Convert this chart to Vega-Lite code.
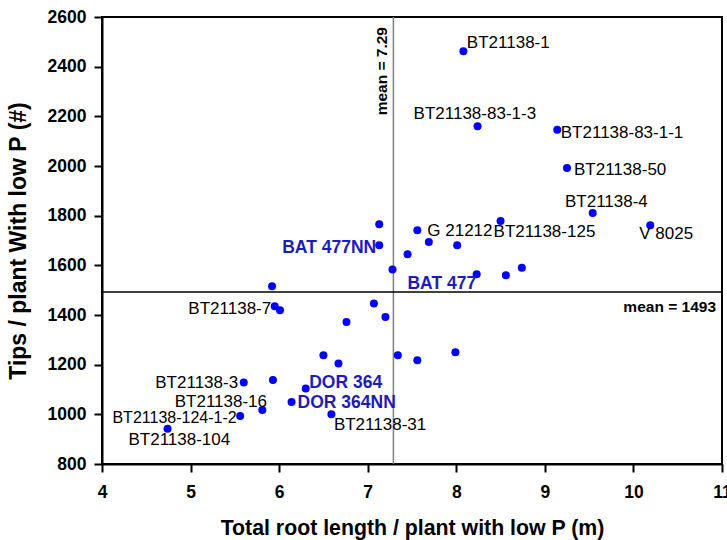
{
  "$schema": "https://vega.github.io/schema/vega-lite/v6.json",
  "width": 620,
  "height": 447,
  "autosize": {"type": "none"},
  "padding": {"left": 102, "top": 17, "right": 5, "bottom": 76},
  "background": "white",
  "config": {
    "font": "Liberation Sans",
    "view": {"stroke": "black", "strokeWidth": 2},
    "axis": {
      "grid": false,
      "domainColor": "black",
      "domainWidth": 2,
      "tickColor": "black",
      "tickWidth": 2,
      "tickSize": 8,
      "labelColor": "black",
      "labelFontSize": 17.5,
      "labelFontWeight": "bold",
      "titleColor": "black",
      "titleFontWeight": "bold"
    },
    "text": {"fontSize": 17, "baseline": "middle"}
  },
  "datasets": {
    "pts": [
      {"x": 8.08, "y": 2462, "label": "BT21138-1", "type": "line"},
      {"x": 8.24, "y": 2160, "label": "BT21138-83-1-3", "type": "line"},
      {"x": 9.14, "y": 2146, "label": "BT21138-83-1-1", "type": "line"},
      {"x": 9.25, "y": 1992, "label": "BT21138-50", "type": "line"},
      {"x": 9.54, "y": 1811, "label": "BT21138-4", "type": "line"},
      {"x": 10.19, "y": 1761, "label": "V 8025", "type": "line"},
      {"x": 7.13, "y": 1765, "label": "", "type": "line"},
      {"x": 7.13, "y": 1681, "label": "BAT 477NN", "type": "parent"},
      {"x": 7.56, "y": 1741, "label": "G 21212", "type": "line"},
      {"x": 8.50, "y": 1779, "label": "BT21138-125", "type": "line"},
      {"x": 7.69, "y": 1694, "label": "", "type": "line"},
      {"x": 8.01, "y": 1681, "label": "", "type": "line"},
      {"x": 7.45, "y": 1645, "label": "", "type": "line"},
      {"x": 7.28, "y": 1583, "label": "", "type": "line"},
      {"x": 8.23, "y": 1564, "label": "BAT 477", "type": "parent"},
      {"x": 8.56, "y": 1560, "label": "", "type": "line"},
      {"x": 8.74, "y": 1590, "label": "", "type": "line"},
      {"x": 5.92, "y": 1516, "label": "", "type": "line"},
      {"x": 5.95, "y": 1435, "label": "BT21138-7", "type": "line"},
      {"x": 6.01, "y": 1419, "label": "", "type": "line"},
      {"x": 7.07, "y": 1446, "label": "", "type": "line"},
      {"x": 7.20, "y": 1392, "label": "", "type": "line"},
      {"x": 6.76, "y": 1372, "label": "", "type": "line"},
      {"x": 6.50, "y": 1238, "label": "", "type": "line"},
      {"x": 6.67, "y": 1205, "label": "", "type": "line"},
      {"x": 7.34, "y": 1238, "label": "", "type": "line"},
      {"x": 7.56, "y": 1218, "label": "", "type": "line"},
      {"x": 7.99, "y": 1250, "label": "", "type": "line"},
      {"x": 5.60, "y": 1128, "label": "BT21138-3", "type": "line"},
      {"x": 5.93, "y": 1138, "label": "", "type": "line"},
      {"x": 6.30, "y": 1104, "label": "DOR 364", "type": "parent"},
      {"x": 6.14, "y": 1050, "label": "DOR 364NN", "type": "parent"},
      {"x": 5.81, "y": 1017, "label": "BT21138-16", "type": "line"},
      {"x": 5.56, "y": 993, "label": "BT21138-124-1-2", "type": "line"},
      {"x": 4.74, "y": 942, "label": "BT21138-104", "type": "line"},
      {"x": 6.59, "y": 1000, "label": "BT21138-31", "type": "line"}
    ],
    "means": [{"mx": 7.29, "my": 1493, "xlab": "mean = 7.29", "ylab": "mean = 1493"}]
  },
  "layer": [
    {
      "data": {"name": "means"},
      "mark": {"type": "rule", "color": "#808080", "strokeWidth": 1.5},
      "encoding": {
        "x": {"field": "mx", "type": "quantitative", "title": "Total root length / plant with low P (m)"}
      }
    },
    {
      "data": {"name": "means"},
      "mark": {"type": "rule", "color": "black", "strokeWidth": 1.5},
      "encoding": {
        "y": {"field": "my", "type": "quantitative", "title": "Tips / plant With low P (#)"}
      }
    },
    {
      "data": {"name": "means"},
      "mark": {"type": "text", "angle": 270, "align": "right", "baseline": "alphabetic", "dx": -10, "dy": -6, "fontWeight": "bold", "fontSize": 15.5},
      "encoding": {
        "x": {"field": "mx", "type": "quantitative", "title": "Total root length / plant with low P (m)"},
        "y": {"datum": 2600, "type": "quantitative"},
        "text": {"field": "xlab"}
      }
    },
    {
      "data": {"name": "means"},
      "mark": {"type": "text", "align": "right", "baseline": "middle", "dx": -6, "dy": 15, "fontWeight": "bold", "fontSize": 15.5},
      "encoding": {
        "x": {"datum": 11, "type": "quantitative"},
        "y": {"field": "my", "type": "quantitative", "title": "Tips / plant With low P (#)"},
        "text": {"field": "ylab"}
      }
    },
    {
      "data": {"name": "pts"},
      "encoding": {
        "x": {
          "field": "x", "type": "quantitative",
          "scale": {"domain": [4, 11], "nice": false, "zero": false},
          "axis": {"values": [4, 5, 6, 7, 8, 9, 10, 11], "format": "d", "labelPadding": 11, "titlePadding": 17, "titleFontSize": 21.3, "labelFlush": false, "labelOverlap": false},
          "title": "Total root length / plant with low P (m)"
        },
        "y": {
          "field": "y", "type": "quantitative",
          "scale": {"domain": [800, 2600], "nice": false, "zero": false},
          "axis": {"values": [800, 1000, 1200, 1400, 1600, 1800, 2000, 2200, 2400, 2600], "format": "d", "labelPadding": 8, "titlePadding": 17, "titleFontSize": 23, "labelOverlap": false},
          "title": "Tips / plant With low P (#)"
        }
      },
      "layer": [
        {"mark": {"type": "circle", "size": 64, "color": "#0000ff", "opacity": 1}},
        {"transform": [{"filter": {"field": "label", "oneOf": ["BT21138-83-1-1"]}}], "mark": {"type": "text", "align": "left", "dx": 3.5, "dy": 3}, "encoding": {"text": {"field": "label"}}},
        {"transform": [{"filter": {"field": "label", "oneOf": ["BT21138-50"]}}], "mark": {"type": "text", "align": "left", "dx": 7, "dy": 2}, "encoding": {"text": {"field": "label"}}},
        {"transform": [{"filter": {"field": "label", "oneOf": ["G 21212"]}}], "mark": {"type": "text", "align": "left", "dx": 10, "dy": 1}, "encoding": {"text": {"field": "label"}}},
        {"transform": [{"filter": {"field": "label", "oneOf": ["BT21138-1"]}}], "mark": {"type": "text", "align": "left", "dx": 3.5, "dy": -8}, "encoding": {"text": {"field": "label"}}},
        {"transform": [{"filter": {"field": "label", "oneOf": ["BT21138-7"]}}], "mark": {"type": "text", "align": "right", "dx": -3.5, "dy": 2.5}, "encoding": {"text": {"field": "label"}}},
        {"transform": [{"filter": {"field": "label", "oneOf": ["BT21138-124-1-2"]}}], "mark": {"type": "text", "align": "right", "dx": -3.5, "dy": 2, "fontSize": 16}, "encoding": {"text": {"field": "label"}}},
        {"transform": [{"filter": {"field": "label", "oneOf": ["BT21138-3"]}}], "mark": {"type": "text", "align": "right", "dx": -5.6, "dy": 0.5}, "encoding": {"text": {"field": "label"}}},
        {"transform": [{"filter": {"field": "label", "oneOf": ["BT21138-16"]}}], "mark": {"type": "text", "align": "right", "dx": 4.7, "dy": -8.3}, "encoding": {"text": {"field": "label"}}},
        {"transform": [{"filter": {"field": "label", "oneOf": ["BT21138-83-1-3"]}}], "mark": {"type": "text", "align": "center", "dx": -2.7, "dy": -12.3}, "encoding": {"text": {"field": "label"}}},
        {"transform": [{"filter": {"field": "label", "oneOf": ["BT21138-4"]}}], "mark": {"type": "text", "align": "center", "dx": 13.7, "dy": -10.7}, "encoding": {"text": {"field": "label"}}},
        {"transform": [{"filter": {"field": "label", "oneOf": ["V 8025"]}}], "mark": {"type": "text", "align": "left", "dx": -11, "dy": 9}, "encoding": {"text": {"field": "label"}}},
        {"transform": [{"filter": {"field": "label", "oneOf": ["BT21138-125"]}}], "mark": {"type": "text", "align": "left", "dx": -7, "dy": 11}, "encoding": {"text": {"field": "label"}}},
        {"transform": [{"filter": {"field": "label", "oneOf": ["BT21138-31"]}}], "mark": {"type": "text", "align": "left", "dx": 2.5, "dy": 11}, "encoding": {"text": {"field": "label"}}},
        {"transform": [{"filter": {"field": "label", "oneOf": ["BT21138-104"]}}], "mark": {"type": "text", "align": "center", "dx": 11.8, "dy": 11.6}, "encoding": {"text": {"field": "label"}}},
        {"transform": [{"filter": {"field": "label", "oneOf": ["BAT 477NN"]}}], "mark": {"type": "text", "align": "right", "dx": -3, "dy": 2.7, "fontWeight": "bold", "fontSize": 17.5, "color": "#1c1cb8"}, "encoding": {"text": {"field": "label"}}},
        {"transform": [{"filter": {"field": "label", "oneOf": ["BAT 477"]}}], "mark": {"type": "text", "align": "right", "dx": -0.5, "dy": 9.7, "fontWeight": "bold", "fontSize": 17.5, "color": "#1c1cb8"}, "encoding": {"text": {"field": "label"}}},
        {"transform": [{"filter": {"field": "label", "oneOf": ["DOR 364"]}}], "mark": {"type": "text", "align": "left", "dx": 3.5, "dy": -5.6, "fontWeight": "bold", "fontSize": 17.5, "color": "#1c1cb8"}, "encoding": {"text": {"field": "label"}}},
        {"transform": [{"filter": {"field": "label", "oneOf": ["DOR 364NN"]}}], "mark": {"type": "text", "align": "left", "dx": 6, "dy": 1, "fontWeight": "bold", "fontSize": 17.5, "color": "#1c1cb8"}, "encoding": {"text": {"field": "label"}}}
      ]
    }
  ]
}
